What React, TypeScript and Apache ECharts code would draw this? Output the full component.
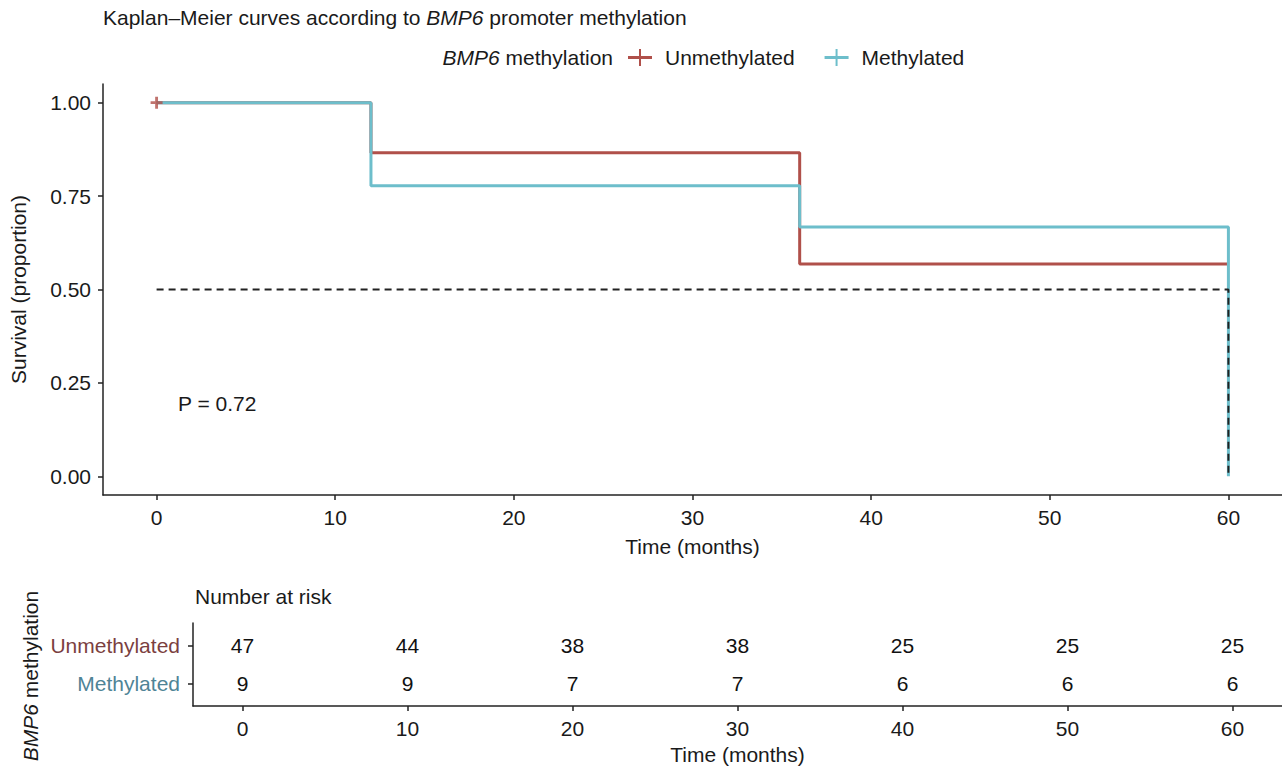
import React, { useEffect, useRef } from "react";
import * as echarts from "echarts";

// ---- data ----
const groups = ["Unmethylated", "Methylated"];
const timesUnmeth = [0, 12, 36, 60];
const survUnmeth = [1.0, 0.866, 0.568, 0.568];
const timesMeth = [0, 12, 36, 60];
const survMeth = [1.0, 0.778, 0.667, 0.0];
const censorTimes = [0];
const censorSurv = [1.0];
const medianPath = [
  [0, 0.5],
  [60, 0.5],
  [60, 0.0],
];
const xTicks = [0, 10, 20, 30, 40, 50, 60];
const yTicks = [0, 0.25, 0.5, 0.75, 1.0];
const riskTimes = [0, 10, 20, 30, 40, 50, 60];
const riskUnmeth = [47, 44, 38, 38, 25, 25, 25];
const riskMeth = [9, 9, 7, 7, 6, 6, 6];
const pValueText = "P = 0.72";

const RED = "#B0504A";
const CYAN = "#6DBECB";
const RED_TXT = "#7B3F3F";
const CYAN_TXT = "#4F8496";
const FONT = "Liberation Sans, Arial, Helvetica, sans-serif";
const TXT = "#1a1a1a";
const FS = 21;

export default function App() {
  const ref = useRef<HTMLDivElement>(null);
  useEffect(() => {
    if (!ref.current) return;
    const chart = echarts.init(ref.current, undefined, { renderer: "svg" });
    const axisLine = { show: true, onZero: false, lineStyle: { color: "#222", width: 1.5 } };
    const axisTick = { show: true, length: 5, lineStyle: { color: "#222", width: 1.5 } };
    const plus = "path://M4,0 H6.5 V11 H4 Z M0,4.2 H10.5 V6.8 H0 Z";
    const riskLabel = {
      show: true,
      position: "inside",
      fontSize: FS,
      color: "#111",
      opacity: 1,
      textBorderWidth: 0,
      fontFamily: FONT,
      formatter: (p: any) => String(p.value[2]),
    };
    const option: any = {
      animation: false,
      backgroundColor: "#fff",
      textStyle: { fontFamily: FONT },
      title: {
        text: "Kaplan–Meier curves according to {i|BMP6} promoter methylation",
        left: 103,
        top: 7,
        padding: 0,
        textStyle: {
          fontSize: FS,
          fontWeight: "normal",
          color: TXT,
          fontFamily: FONT,
          rich: { i: { fontStyle: "italic", fontSize: FS, color: TXT, fontFamily: FONT } },
        },
      },
      legend: {
        left: 628,
        top: 47,
        padding: 0,
        itemWidth: 24,
        itemHeight: 17,
        itemGap: 30,
        icon: "path://M0,7 H24 V10 H0 Z M11,0 H13 V17 H11 Z",
        data: groups,
        textStyle: { fontSize: FS, color: TXT, fontFamily: FONT, padding: [0, 0, 0, 8] },
      },
      graphic: [
        {
          type: "text",
          right: 1282 - 613,
          top: 47,
          style: {
            text: "{i|BMP6} methylation",
            fontSize: FS,
            fill: TXT,
            fontFamily: FONT,
            rich: { i: { fontStyle: "italic", fontSize: FS, fill: TXT, fontFamily: FONT } },
          },
        },
        {
          type: "text",
          left: 178,
          top: 393,
          style: { text: pValueText, fontSize: FS, fill: TXT, fontFamily: FONT },
        },
        {
          type: "text",
          left: 195,
          top: 586,
          style: { text: "Number at risk", fontSize: FS, fill: TXT, fontFamily: FONT },
        },
        {
          type: "text",
          x: 30,
          y: 676,
          rotation: Math.PI / 2,
          style: {
            text: "{i|BMP6} methylation",
            fontSize: FS,
            fill: TXT,
            fontFamily: FONT,
            align: "center",
            verticalAlign: "middle",
            rich: { i: { fontStyle: "italic", fontSize: FS, fill: TXT, fontFamily: FONT } },
          },
        },
      ],
      grid: [
        { left: 103, top: 84, width: 1179, height: 411, containLabel: false },
        { left: 193, top: 623, width: 1089, height: 83, containLabel: false },
      ],
      xAxis: [
        {
          gridIndex: 0,
          type: "value",
          min: -3,
          max: 63,
          splitLine: { show: false },
          axisLine,
          axisTick: { ...axisTick, customValues: xTicks },
          axisLabel: { customValues: xTicks, fontSize: FS, color: TXT, margin: 12, fontFamily: FONT },
          name: "Time (months)",
          nameLocation: "middle",
          nameGap: 41,
          nameTextStyle: { fontSize: FS, color: TXT, fontFamily: FONT },
        },
        {
          gridIndex: 1,
          type: "value",
          min: -3,
          max: 63,
          splitLine: { show: false },
          axisLine,
          axisTick: { ...axisTick, customValues: riskTimes },
          axisLabel: { customValues: riskTimes, fontSize: FS, color: TXT, margin: 12, fontFamily: FONT },
          name: "Time (months)",
          nameLocation: "middle",
          nameGap: 38,
          nameTextStyle: { fontSize: FS, color: TXT, fontFamily: FONT },
        },
      ],
      yAxis: [
        {
          gridIndex: 0,
          type: "value",
          min: -0.05,
          max: 1.05,
          splitLine: { show: false },
          axisLine,
          axisTick: { ...axisTick, customValues: yTicks },
          axisLabel: {
            customValues: yTicks,
            fontSize: FS,
            color: TXT,
            margin: 12,
            fontFamily: FONT,
            formatter: (v: number) => v.toFixed(2),
          },
          name: "Survival (proportion)",
          nameLocation: "middle",
          nameGap: 74,
          nameTextStyle: { fontSize: FS, color: TXT, fontFamily: FONT },
        },
        {
          gridIndex: 1,
          type: "value",
          min: 0.4,
          max: 2.6,
          splitLine: { show: false },
          axisLine,
          axisTick: { ...axisTick, customValues: [1, 2] },
          axisLabel: {
            customValues: [1, 2],
            fontSize: FS,
            margin: 13,
            fontFamily: FONT,
            formatter: (v: number) => (Math.round(v) === 2 ? "{u|" + groups[0] + "}" : "{m|" + groups[1] + "}"),
            rich: {
              u: { color: RED_TXT, fontSize: FS, fontFamily: FONT },
              m: { color: CYAN_TXT, fontSize: FS, fontFamily: FONT },
            },
          },
        },
      ],
      series: [
        {
          name: groups[0],
          type: "line",
          step: "end",
          xAxisIndex: 0,
          yAxisIndex: 0,
          symbol: "none",
          color: RED,
          lineStyle: { color: RED, width: 3 },
          data: timesUnmeth.map((t, i) => [t, survUnmeth[i]]),
          z: 3,
        },
        {
          name: groups[1],
          type: "line",
          step: "end",
          xAxisIndex: 0,
          yAxisIndex: 0,
          symbol: "none",
          color: CYAN,
          lineStyle: { color: CYAN, width: 3 },
          data: timesMeth.map((t, i) => [t, survMeth[i]]),
          z: 4,
        },
        {
          name: "median",
          type: "line",
          xAxisIndex: 0,
          yAxisIndex: 0,
          symbol: "none",
          lineStyle: { color: "#222", width: 2, type: [7, 5] },
          data: medianPath,
          z: 5,
        },
        {
          name: "censor",
          type: "scatter",
          xAxisIndex: 0,
          yAxisIndex: 0,
          symbol: plus,
          symbolSize: 12,
          itemStyle: { color: RED },
          data: censorTimes.map((t, i) => [t, censorSurv[i]]),
          z: 6,
        },
        {
          name: "riskU",
          type: "scatter",
          xAxisIndex: 1,
          yAxisIndex: 1,
          symbolSize: 1,
          itemStyle: { color: "#fff", opacity: 1 },
          label: riskLabel,
          emphasis: { disabled: true },
          data: riskTimes.map((t, i) => [t, 2, riskUnmeth[i]]),
        },
        {
          name: "riskM",
          type: "scatter",
          xAxisIndex: 1,
          yAxisIndex: 1,
          symbolSize: 1,
          itemStyle: { color: "#fff", opacity: 1 },
          label: riskLabel,
          emphasis: { disabled: true },
          data: riskTimes.map((t, i) => [t, 1, riskMeth[i]]),
        },
      ],
    };
    chart.setOption(option);
    return () => chart.dispose();
  }, []);
  return (
    <div
      ref={ref}
      style={{ position: "absolute", left: 0, top: 0, width: 1282, height: 768, background: "#fff" }}
    />
  );
}
